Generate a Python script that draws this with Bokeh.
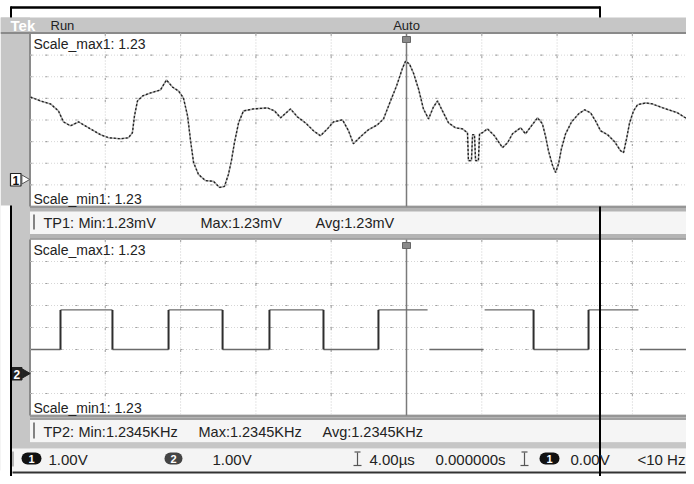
from bokeh.plotting import figure
from bokeh.models import Range1d, Label
from bokeh.embed import file_html
from bokeh.resources import INLINE

# ---------------- data ----------------
# Channel 1 trace: time in microseconds (4.00 us/div), amplitude in volts (1.00 V/div)
ch1_time_us = [-19.97, -19.44, -18.91, -18.49, -18.22, -17.85, -17.42, -16.79, -16.25, -15.83,
               -15.19, -14.77, -14.56, -14.45, -14.29, -14.02, -13.60, -13.07, -12.75, -12.43,
               -12.11, -11.85, -11.63, -11.47, -11.31, -11.05, -10.68, -10.25, -9.93, -9.67,
               -9.46, -9.30, -9.14, -8.92, -8.66, -8.13, -7.38, -7.01, -6.69, -6.16,
               -5.79, -5.37, -4.94, -4.57, -4.20, -3.88, -3.40, -3.08, -2.82, -2.44,
               -2.02, -1.54, -1.22, -0.85, -0.53, -0.21, -0.05, 0.16, 0.37, 0.64,
               0.90, 1.17, 1.43, 1.65, 1.91, 2.23, 2.60, 2.97, 3.24, 3.29,
               3.45, 3.51, 3.61, 3.67, 3.82, 3.88, 4.04, 4.30, 4.67, 5.10,
               5.37, 5.63, 6.06, 6.32, 6.64, 6.96, 7.22, 7.38, 7.54, 7.76,
               7.92, 8.08, 8.23, 8.45, 8.77, 9.14, 9.46, 9.78, 10.04, 10.31,
               10.68, 11.05, 11.37, 11.53, 11.69, 11.85, 12.06, 12.27, 12.70, 13.07,
               13.49, 13.92, 14.40, 14.82, 15.30]
ch1_volts = [3.72, 3.54, 3.40, 3.08, 2.57, 2.39, 2.57, 2.25, 1.98, 1.84,
             1.79, 1.84, 2.07, 2.85, 3.54, 3.77, 3.91, 4.05, 4.51, 4.18,
             4.00, 3.68, 2.85, 1.70, 0.69, 0.14, -0.14, -0.18, -0.46, -0.41,
             0.14, 0.78, 1.61, 2.53, 3.08, 3.17, 3.22, 3.08, 2.76, 3.17,
             2.80, 2.53, 2.16, 1.93, 2.25, 2.57, 2.67, 2.16, 1.56, 1.89,
             2.21, 2.44, 2.71, 3.54, 4.23, 5.06, 5.38, 5.24, 4.83, 4.09,
             3.17, 2.71, 3.26, 3.54, 3.08, 2.53, 2.30, 2.25, 2.07, 0.78,
             0.78, 1.98, 1.98, 0.78, 0.78, 2.02, 2.07, 2.25, 1.93, 1.38,
             1.61, 2.02, 2.30, 2.02, 2.39, 2.76, 2.48, 1.93, 1.24, 0.55,
             0.23, 0.64, 1.33, 2.02, 2.57, 2.94, 3.13, 2.99, 2.62, 2.16,
             1.98, 1.66, 1.24, 1.15, 1.79, 2.53, 3.08, 3.36, 3.45, 3.40,
             3.26, 3.13, 2.99, 2.76, 2.25]

# Channel 2 square wave: horizontal segments (us) and levels (V), plus drawn edges
ch2_seg_start_us = [-19.97, -18.38, -15.62, -12.64, -9.77, -7.28, -4.41, -1.49, 1.22, 4.15, 6.75, 9.67, 12.40]
ch2_seg_end_us = [-18.38, -15.62, -12.64, -9.77, -7.28, -4.41, -1.49, 1.12, 4.09, 6.75, 9.67, 12.32, 15.30]
ch2_seg_volts = [1.0, 2.8, 1.0, 2.8, 1.0, 2.8, 1.0, 2.8, 1.0, 2.8, 1.0, 2.8, 1.0]
ch2_edge_us = [-18.38, -15.62, -12.64, -9.77, -7.28, -4.41, -1.49, 6.75, 9.67]
ch2_low_v = 1.0
ch2_high_v = 2.8

# Texts
header_texts = ["Run", "Auto"]
scale_max_text = "Scale_max1: 1.23"
scale_min_text = "Scale_min1: 1.23"
tp1_texts = ["TP1:", "Min:1.23mV", "Max:1.23mV", "Avg:1.23mV"]
tp2_texts = ["TP2:", "Min:1.2345KHz", "Max:1.2345KHz", "Avg:1.2345KHz"]
status_texts = ["1.00V", "1.00V", "4.00\u00b5s", "0.000000s", "0.00V", "<10 Hz"]

# ---------------- geometry (screen pixels) ----------------
X0, X1, Y0, Y1 = 0, 686, 0, 476
XR = 694                 # right edge of the instrument screen
CX = 406.0               # trigger / time-zero column
PX_DIV = 75.3            # horizontal pixels per division
US_PER_DIV = 4.0
P1_TOP, P1_BOT = 33.0, 206.0
P2_TOP, P2_BOT = 239.0, 415.0
G1, V1_DIV = 177.0, (P1_BOT - P1_TOP) / 8.0
G2, V2_DIV = 371.0, (P2_BOT - P2_TOP) / 8.0
PLOT_L = 29.5
FONT = "Liberation Sans"

p = figure(width=X1 - X0, height=Y1 - Y0, output_backend="svg", toolbar_location=None,
           x_range=Range1d(X0, X1), y_range=Range1d(Y1, Y0),
           x_axis_type=None, y_axis_type=None, min_border=0)
p.outline_line_color = None
p.xgrid.visible = False
p.ygrid.visible = False
p.background_fill_color = "white"

px_per_us = PX_DIV / US_PER_DIV
p.extra_x_ranges = {"t": Range1d((X0 - CX) / px_per_us, (X1 - CX) / px_per_us)}
p.extra_y_ranges = {
    "v1": Range1d((G1 - Y1) / V1_DIV, (G1 - Y0) / V1_DIV),
    "v2": Range1d((G2 - Y1) / V2_DIV, (G2 - Y0) / V2_DIV),
}

GRAY = "#c6c6c6"
BAND = "#b4b4b4"
# left strip and header
p.quad(left=[X0], right=[PLOT_L], top=[17], bottom=[470], fill_color=GRAY, line_color=None)
p.quad(left=[X0], right=[XR], top=[17], bottom=[P1_TOP], fill_color=GRAY, line_color=None)
p.segment(x0=[X0], y0=[32.5], x1=[XR], y1=[32.5], line_color="#8a8a8a", line_width=2)
# bands and info bars
p.quad(left=[PLOT_L], right=[XR], top=[P1_BOT - 1], bottom=[P2_TOP], fill_color=BAND, line_color=None)
p.quad(left=[PLOT_L], right=[XR], top=[211], bottom=[233.5], fill_color="#f5f5f5", line_color=None)
p.quad(left=[PLOT_L], right=[XR], top=[P2_BOT - 1], bottom=[448], fill_color=BAND, line_color=None)
p.quad(left=[PLOT_L], right=[XR], top=[419.5], bottom=[442], fill_color="#f5f5f5", line_color=None)
p.quad(left=[PLOT_L], right=[XR], top=[442], bottom=[448], fill_color=GRAY, line_color=None)
p.quad(left=[11], right=[XR], top=[448], bottom=[471], fill_color="#f4f4f4", line_color=None)
p.segment(x0=[12], y0=[472], x1=[XR], y1=[472], line_color="#333333", line_width=2)
p.segment(x0=[PLOT_L, PLOT_L], y0=[206.5, 415.5], x1=[XR, XR], y1=[206.5, 415.5],
          line_color="#8c8c8c", line_width=1.5)
p.segment(x0=[PLOT_L, PLOT_L], y0=[238.5, 418.5], x1=[XR, XR], y1=[238.5, 418.5],
          line_color="#9a9a9a", line_width=1.5)
# plot borders
p.segment(x0=[PLOT_L, PLOT_L], y0=[P1_TOP, P2_TOP], x1=[PLOT_L, PLOT_L], y1=[P1_BOT, P2_BOT],
          line_color="#8a8a8a", line_width=2)

# graticule
for top, bot in ((P1_TOP, P1_BOT), (P2_TOP, P2_BOT)):
    dv = (bot - top) / 8.0
    ys = [top + k * dv for k in range(1, 8)]
    p.multi_line(xs=[[PLOT_L, XR] for _ in ys], ys=[[y, y] for y in ys],
                 line_color="#d6d6d6", line_width=1, line_dash="1 2")
    p.multi_line(xs=[[PLOT_L + 0.5, XR] for _ in ys], ys=[[y, y] for y in ys],
                 line_color="#a0a0a0", line_width=1.2, line_dash="2 13")
    xs = [CX + k * PX_DIV for k in (-4, -3, -2, -1, 1, 2, 3)]
    p.multi_line(xs=[[x, x] for x in xs], ys=[[top, bot] for _ in xs],
                 line_color="#cccccc", line_width=1, line_dash="1 2")
    p.multi_line(xs=[[x, x] for x in xs], ys=[[top + 0.5, bot] for _ in xs],
                 line_color="#acacac", line_width=1.2, line_dash="2 20")
    p.segment(x0=[CX], y0=[top], x1=[CX], y1=[bot], line_color="#7a7a7a", line_width=1.5)
    # trigger marker
    p.quad(left=[CX - 4], right=[CX + 4], top=[top + 3], bottom=[top + 9],
           fill_color="#8a8a8a", line_color="#666666")

# traces
p.line(x=ch1_time_us, y=ch1_volts, x_range_name="t", y_range_name="v1",
       line_color="#a8a8a8", line_width=1.6)
p.line(x=ch1_time_us, y=ch1_volts, x_range_name="t", y_range_name="v1",
       line_color="#1e1e1e", line_width=1.3, line_dash="2 2")
p.segment(x0=ch2_seg_start_us, y0=ch2_seg_volts, x1=ch2_seg_end_us, y1=ch2_seg_volts,
          x_range_name="t", y_range_name="v2", line_color="#6a6a6a", line_width=1.3)
p.segment(x0=ch2_edge_us, y0=[ch2_low_v] * len(ch2_edge_us), x1=ch2_edge_us,
          y1=[ch2_high_v] * len(ch2_edge_us),
          x_range_name="t", y_range_name="v2", line_color="#2e2e2e", line_width=2)

# channel markers
p.quad(left=[10], right=[20.5], top=[173], bottom=[185.5], fill_color="white", line_color="#222222",
       line_width=1.2)
p.scatter(x=[24], y=[179], marker="triangle", angle=-1.5708, size=9,
          fill_color="white", line_color="#555555")
p.quad(left=[11], right=[21.5], top=[367], bottom=[379.5], fill_color="#222222", line_color="#222222")
p.scatter(x=[24.5], y=[373], marker="triangle", angle=-1.5708, size=9,
          fill_color="#222222", line_color="#222222")

# TP bars left brackets
p.segment(x0=[33.5, 33.5], y0=[214, 422], x1=[33.5, 33.5], y1=[229, 438], line_color="#444444",
          line_width=1.3)

# status bar pills and cursor icons
p.segment(x0=[27, 170, 545], y0=[458, 458, 458], x1=[35, 176, 553], y1=[458, 458, 458],
          line_color=["#111111", "#444444", "#111111"], line_width=12, line_cap="round")
for ix in (357, 524):
    p.segment(x0=[ix, ix - 3, ix - 4], y0=[452, 451.5, 465], x1=[ix, ix + 3, ix + 4],
              y1=[465, 451.5, 465], line_color="#555555", line_width=1.2)
p.segment(x0=[12.5], y0=[451], x1=[12.5], y1=[466], line_color="#777777", line_width=1)

# black frame lines
p.segment(x0=[10], y0=[7], x1=[600], y1=[7], line_color="black", line_width=2.5)
p.segment(x0=[10.5, 599.5], y0=[6, 6], x1=[10.5, 599.5], y1=[17, 17], line_color="black", line_width=2)
p.quad(left=[X0], right=[9.5], top=[205], bottom=[Y1], fill_color="white", line_color=None)
p.segment(x0=[10.5, 599.5], y0=[205, 206], x1=[10.5, 599.5], y1=[Y1, Y1], line_color="black",
          line_width=2)


def lab(x, y, text, size=13, color="#222222", align="left", style="normal"):
    p.add_layout(Label(x=x, y=y, text=text, text_font=FONT, text_font_size=f"{size}px",
                       text_color=color, text_align=align, text_baseline="middle",
                       text_font_style=style))


lab(10, 25, "Tek", size=15, color="white", style="bold")
lab(50, 24.5, header_texts[0], size=13)
lab(CX, 24.5, header_texts[1], size=13, align="center")
lab(33, 43, scale_max_text, size=14)
lab(33, 198.5, scale_min_text, size=14)
lab(33, 249.5, scale_max_text, size=14)
lab(33, 407, scale_min_text, size=14)
for x, t in zip((43, 78, 200, 315), tp1_texts):
    lab(x, 222.5, t, size=14.5)
for x, t in zip((43, 78, 198, 322), tp2_texts):
    lab(x, 431.5, t, size=14.5)
lab(15.3, 179.5, "1", size=12, color="#111111", align="center", style="bold")
lab(16.3, 373.5, "2", size=12, color="white", align="center", style="bold")
lab(31, 458.5, "1", size=11, color="white", align="center", style="bold")
lab(173, 458.5, "2", size=11, color="white", align="center", style="bold")
lab(549, 458.5, "1", size=11, color="white", align="center", style="bold")
for x, t in zip((48, 212, 369, 435, 570, 637), status_texts):
    lab(x, 458.5, t, size=15)

open("out.html", "w").write(file_html(p, INLINE))
